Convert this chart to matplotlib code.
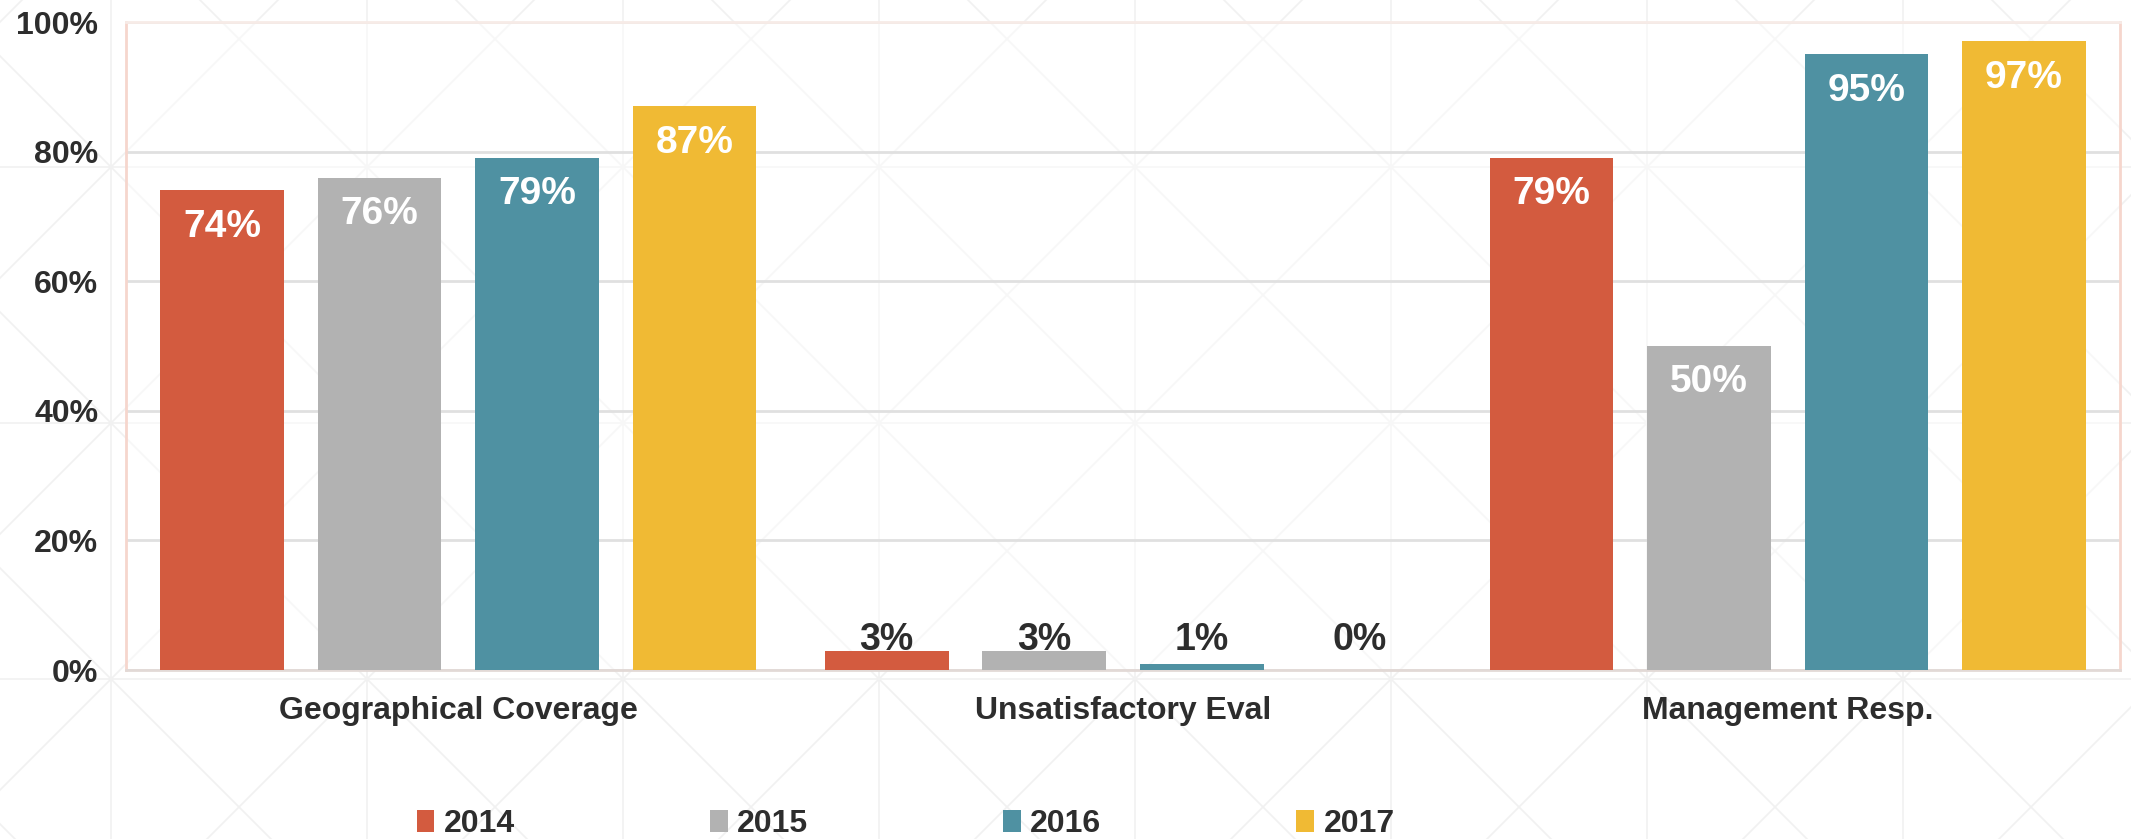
import numpy as np
import matplotlib
matplotlib.use('Agg')
import matplotlib.pyplot as plt
from matplotlib.patches import Patch

# data
categories = ['Geographical Coverage', 'Unsatisfactory Eval', 'Management Resp.']
years = ['2014', '2015', '2016', '2017']
vals_2014 = [74, 3, 79]
vals_2015 = [76, 3, 50]
vals_2016 = [79, 1, 95]
vals_2017 = [87, 0, 97]
y_ticks = [0, 20, 40, 60, 80, 100]

colors = ['#D35B3F', '#B2B2B2', '#4F91A2', '#F0BA34']
text_dark = '#2d2d2d'

plt.rcParams['font.family'] = ['Liberation Sans Narrow', 'Liberation Sans', 'DejaVu Sans']
plt.rcParams['font.weight'] = 'bold'

W, H = 2131, 839
fig = plt.figure(figsize=(W / 100, H / 100), dpi=100)

# background: soft gradient plus a faint lattice pattern
bg = fig.add_axes([0, 0, 1, 1], zorder=-10)
bg.set_xlim(0, W)
bg.set_ylim(H, 0)
bg.axis('off')
grad = np.linspace(0, 1, 256)
grad = np.clip((grad - 0.35) / 0.65, 0, 1)
shade = 1.0 - 0.035 * grad
img = np.dstack([shade, shade, shade])[:, :1, :].repeat(2, axis=1)
bg.imshow(img, extent=[0, W, H, 0], aspect='auto')

pat_col = '#f1f1f1'
step = 256
x0, y0 = 111, 167
for k in range(-2, 12):
    xv = x0 + k * step
    bg.plot([xv, xv], [0, H], color=pat_col, lw=1.2)
    yh = y0 + k * step
    bg.plot([0, W], [yh, yh], color=pat_col, lw=1.2)
for n in range(-10, 20):
    c = (x0 - y0) + n * step
    bg.plot([c - 100, c + H + 100], [-100, H + 100], color=pat_col, lw=1.2)
    c2 = (x0 + y0) + n * step
    bg.plot([c2 + 100, c2 - H - 100], [-100, H + 100], color=pat_col, lw=1.2)

# main axes
left, right, top, bottom = 126, 2120, 22, 670
ax = fig.add_axes([left / W, (H - bottom) / H, (right - left) / W, (bottom - top) / H])
ax.set_facecolor((1, 1, 1, 0.45))

series = [vals_2014, vals_2015, vals_2016, vals_2017]
x = np.arange(len(categories))
step_w = 0.237
bar_w = 0.186

for i, (vals, col) in enumerate(zip(series, colors)):
    pos = x + (i - 1.5) * step_w
    ax.bar(pos, vals, width=bar_w, color=col, zorder=3)
    for px, v in zip(pos, vals):
        if v >= 10:
            ax.text(px, v - 5.6, f'{v}%', ha='center', va='center',
                    color='white', fontsize=28, fontweight='bold', zorder=4)
        else:
            ax.text(px, 4.6, f'{v}%', ha='center', va='center',
                    color=text_dark, fontsize=27, fontweight='bold', zorder=4)

ax.set_xlim(-0.5, 2.5)
ax.set_ylim(0, 100)
ax.set_yticks(y_ticks)
ax.set_yticklabels([f'{t}%' for t in y_ticks])
ax.set_xticks(x)
ax.set_xticklabels(categories)
ax.tick_params(axis='y', length=0, pad=20, labelsize=23, labelcolor=text_dark)
ax.tick_params(axis='x', length=0, pad=19, labelsize=23, labelcolor=text_dark)
ax.yaxis.grid(True, color='#e0e0e0', lw=2, zorder=1)
ax.set_axisbelow(True)

ax.spines['left'].set_color('#f6d6cd')
ax.spines['right'].set_color('#f6d6cd')
ax.spines['top'].set_color('#f7ebe7')
ax.spines['bottom'].set_color('#e2d9d6')
for s in ax.spines.values():
    s.set_linewidth(2)

handles = [Patch(facecolor=c, label=y) for c, y in zip(colors, years)]
fig.legend(handles=handles, ncol=4, loc='center', bbox_to_anchor=(0.425, 0.018),
           frameon=False, fontsize=23, handlelength=0.55, handleheight=0.7,
           handletextpad=0.3, columnspacing=6.1, labelcolor=text_dark)

fig.savefig('out.png', dpi=100)
